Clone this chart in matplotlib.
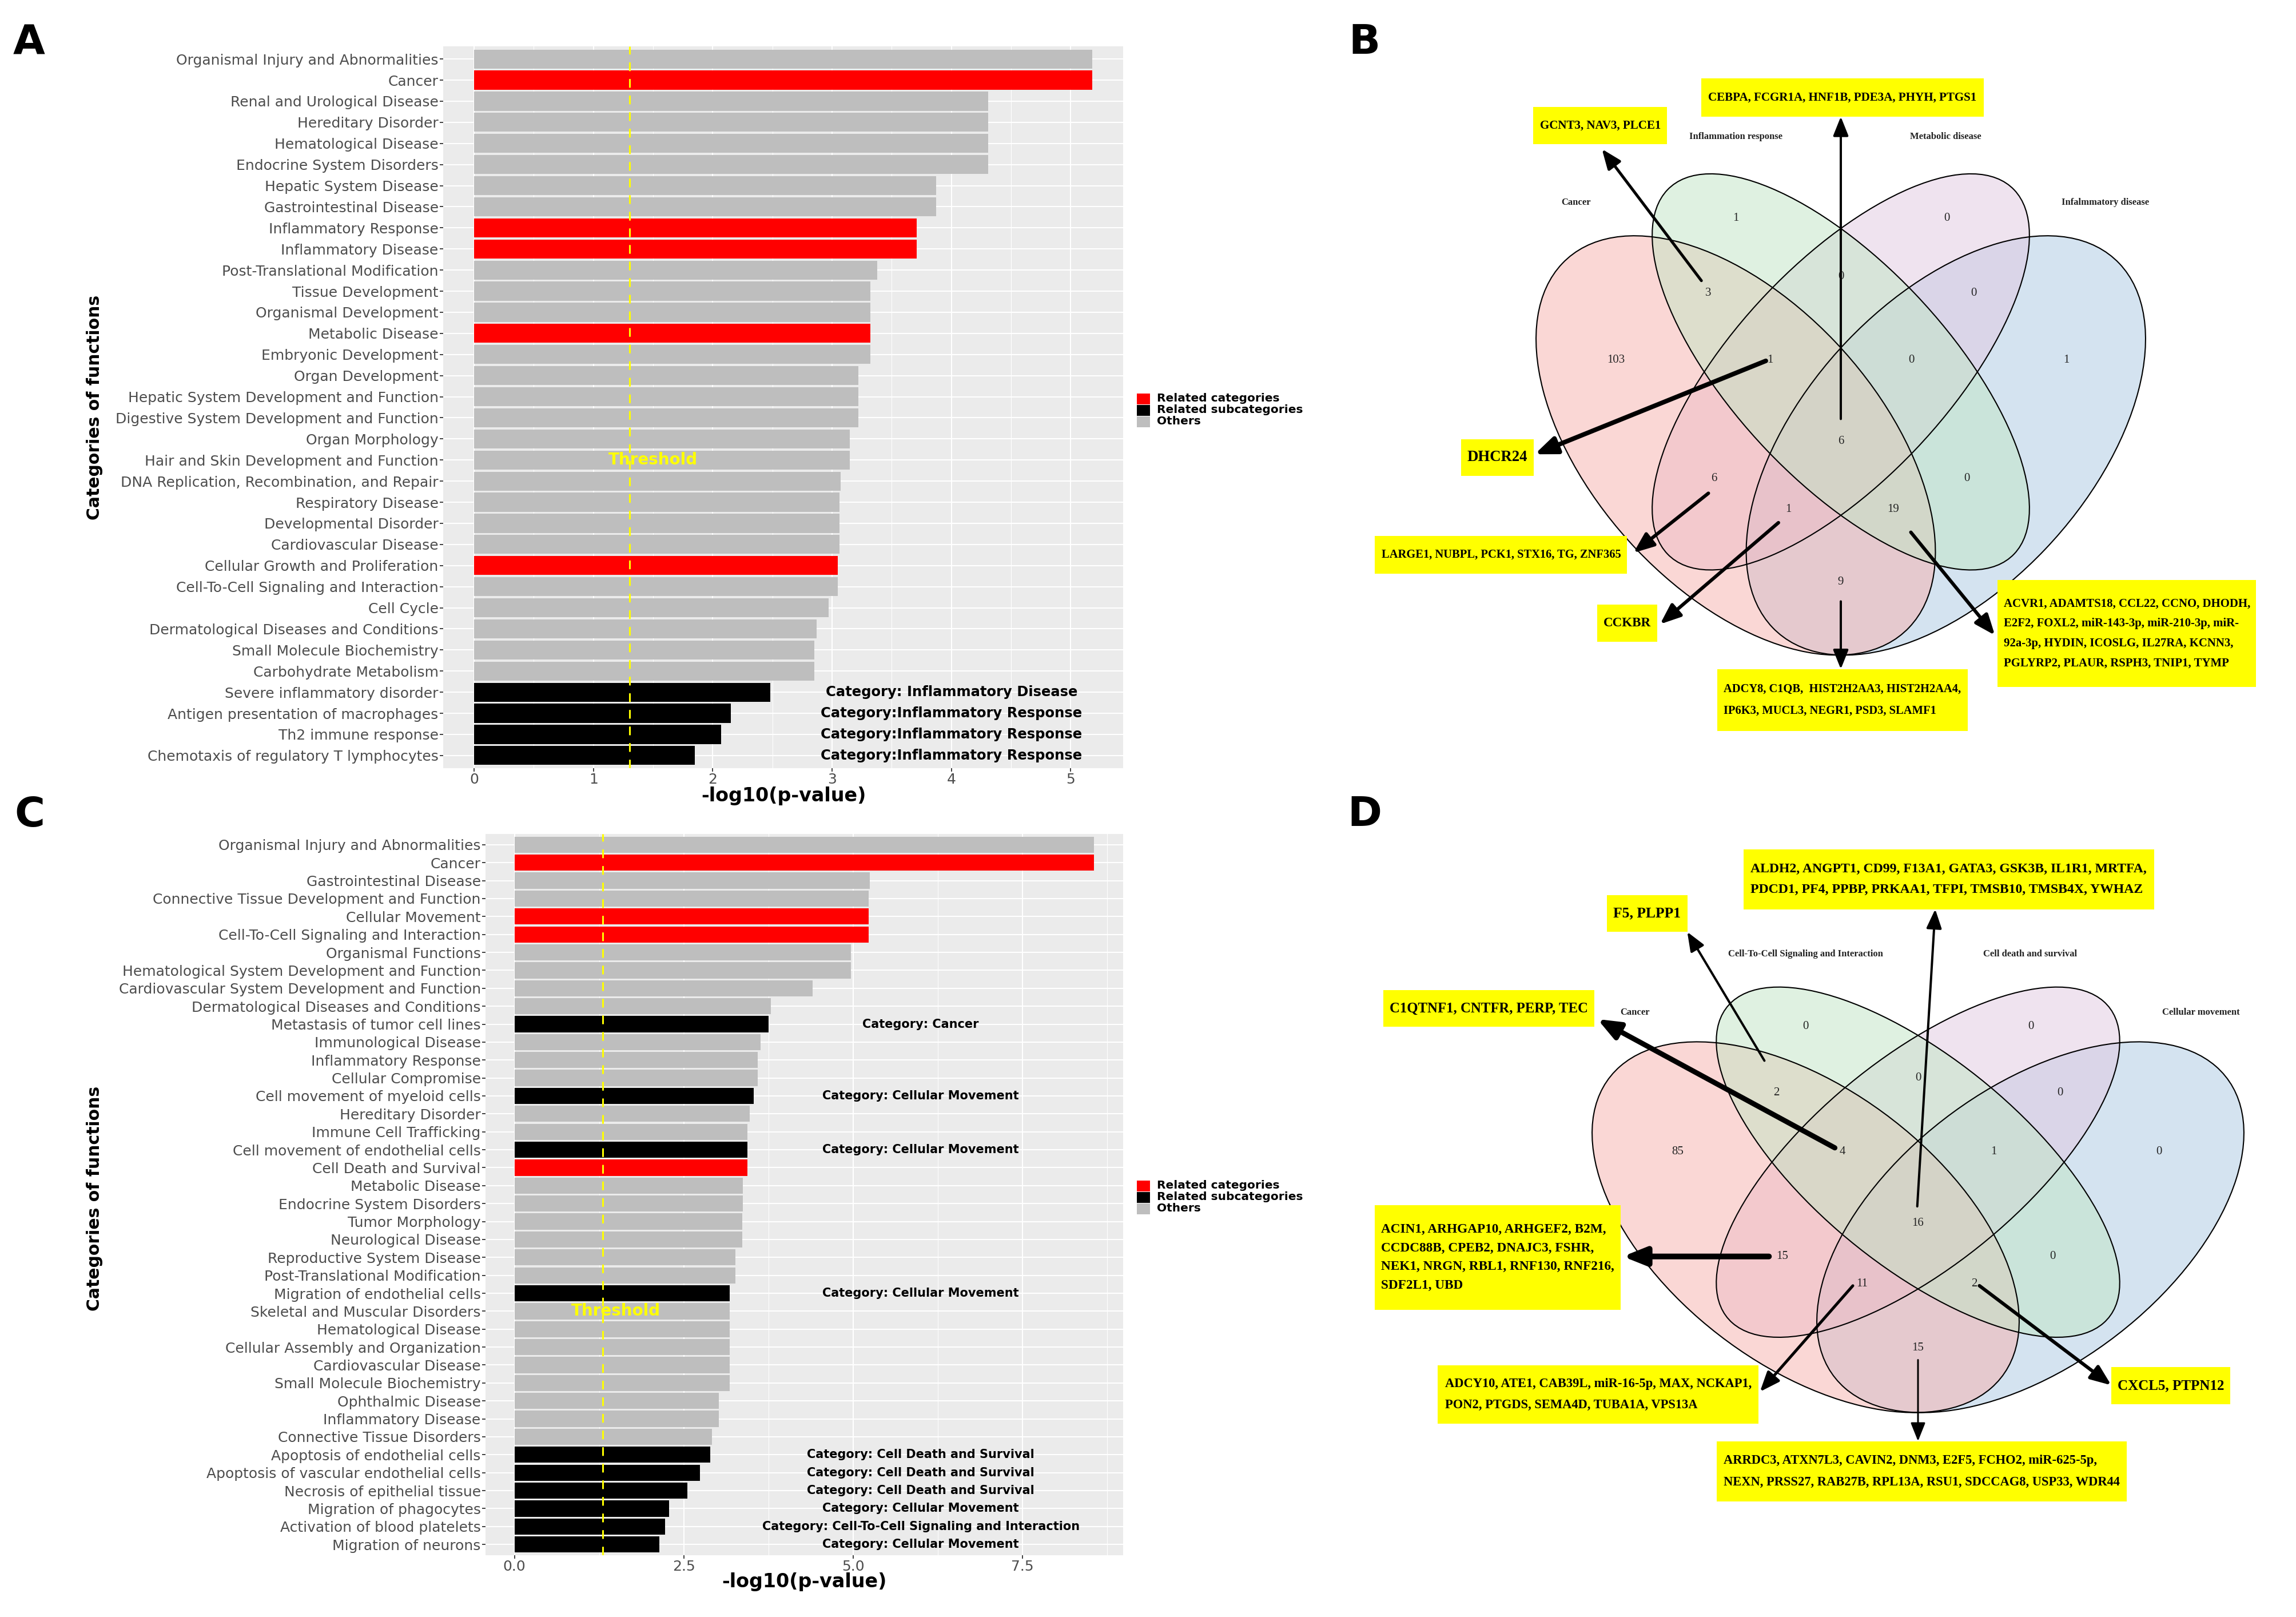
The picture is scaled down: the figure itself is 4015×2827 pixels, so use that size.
import numpy as np
import matplotlib
matplotlib.use("Agg")
import matplotlib.pyplot as plt
from matplotlib.patches import Ellipse, Rectangle
from matplotlib.ticker import MultipleLocator, FormatStrFormatter

W, H, DPI = 4015, 2827, 100

RED, BLACK, GREY = "#FF0000", "#000000", "#BEBEBE"
legend_labels = ["Related categories", "Related subcategories", "Others"]
legend_colors = [RED, BLACK, GREY]
p_threshold = 0.05

# ---------------- panel A : IPA categories ----------------
a_categories = [
    "Organismal Injury and Abnormalities", "Cancer", "Renal and Urological Disease",
    "Hereditary Disorder", "Hematological Disease", "Endocrine System Disorders",
    "Hepatic System Disease", "Gastrointestinal Disease", "Inflammatory Response",
    "Inflammatory Disease", "Post-Translational Modification", "Tissue Development",
    "Organismal Development", "Metabolic Disease", "Embryonic Development",
    "Organ Development", "Hepatic System Development and Function",
    "Digestive System Development and Function", "Organ Morphology",
    "Hair and Skin Development and Function", "DNA Replication, Recombination, and Repair",
    "Respiratory Disease", "Developmental Disorder", "Cardiovascular Disease",
    "Cellular Growth and Proliferation", "Cell-To-Cell Signaling and Interaction",
    "Cell Cycle", "Dermatological Diseases and Conditions", "Small Molecule Biochemistry",
    "Carbohydrate Metabolism", "Severe inflammatory disorder",
    "Antigen presentation of macrophages", "Th2 immune response",
    "Chemotaxis of regulatory T lymphocytes"]
a_values = [5.18, 5.18, 4.31, 4.31, 4.31, 4.31, 3.87, 3.87, 3.71, 3.71, 3.38, 3.32,
            3.32, 3.32, 3.32, 3.22, 3.22, 3.22, 3.15, 3.15, 3.07, 3.06, 3.06, 3.06,
            3.05, 3.05, 2.97, 2.87, 2.85, 2.85, 2.48, 2.15, 2.07, 1.85]
a_related = ["Cancer", "Inflammatory Response", "Inflammatory Disease",
             "Metabolic Disease", "Cellular Growth and Proliferation"]
a_subcats = ["Severe inflammatory disorder", "Antigen presentation of macrophages",
             "Th2 immune response", "Chemotaxis of regulatory T lymphocytes"]
a_note_text = ["Category: Inflammatory Disease", "Category:Inflammatory Response",
               "Category:Inflammatory Response", "Category:Inflammatory Response"]

# ---------------- panel C : IPA categories ----------------
c_categories = [
    "Organismal Injury and Abnormalities", "Cancer", "Gastrointestinal Disease",
    "Connective Tissue Development and Function", "Cellular Movement",
    "Cell-To-Cell Signaling and Interaction", "Organismal Functions",
    "Hematological System Development and Function",
    "Cardiovascular System Development and Function",
    "Dermatological Diseases and Conditions", "Metastasis of tumor cell lines",
    "Immunological Disease", "Inflammatory Response", "Cellular Compromise",
    "Cell movement of myeloid cells", "Hereditary Disorder", "Immune Cell Trafficking",
    "Cell movement of endothelial cells", "Cell Death and Survival", "Metabolic Disease",
    "Endocrine System Disorders", "Tumor Morphology", "Neurological Disease",
    "Reproductive System Disease", "Post-Translational Modification",
    "Migration of endothelial cells", "Skeletal and Muscular Disorders",
    "Hematological Disease", "Cellular Assembly and Organization",
    "Cardiovascular Disease", "Small Molecule Biochemistry", "Ophthalmic Disease",
    "Inflammatory Disease", "Connective Tissue Disorders",
    "Apoptosis of endothelial cells", "Apoptosis of vascular endothelial cells",
    "Necrosis of epithelial tissue", "Migration of phagocytes",
    "Activation of blood platelets", "Migration of neurons"]
c_values = [8.56, 8.56, 5.25, 5.23, 5.23, 5.23, 4.97, 4.97, 4.40, 3.79, 3.75, 3.63,
            3.59, 3.59, 3.53, 3.47, 3.44, 3.44, 3.44, 3.37, 3.37, 3.36, 3.36, 3.26,
            3.26, 3.18, 3.18, 3.18, 3.18, 3.18, 3.18, 3.02, 3.02, 2.92, 2.89, 2.74,
            2.55, 2.28, 2.22, 2.14]
c_related = ["Cancer", "Cellular Movement", "Cell-To-Cell Signaling and Interaction",
             "Cell Death and Survival"]
c_subcats = ["Metastasis of tumor cell lines", "Cell movement of myeloid cells",
             "Cell movement of endothelial cells", "Migration of endothelial cells",
             "Apoptosis of endothelial cells", "Apoptosis of vascular endothelial cells",
             "Necrosis of epithelial tissue", "Migration of phagocytes",
             "Activation of blood platelets", "Migration of neurons"]
c_note_text = ["Category: Cancer", "Category: Cellular Movement",
               "Category: Cellular Movement", "Category: Cellular Movement",
               "Category: Cell Death and Survival", "Category: Cell Death and Survival",
               "Category: Cell Death and Survival", "Category: Cellular Movement",
               "Category: Cell-To-Cell Signaling and Interaction",
               "Category: Cellular Movement"]

# ---------------- Venn data (region key = membership of sets 1..4) ----------------
region_keys = ["1000", "0100", "0010", "0001", "1100", "0110", "0011", "1110",
               "0111", "1111", "1010", "0101", "1011", "1101", "1001"]

b_sets = ["Cancer", "Inflammation response", "Metabolic disease", "Infalmmatory disease"]
b_counts = [103, 1, 0, 1, 3, 0, 0, 1, 0, 6, 6, 0, 1, 19, 9]
b_genes = {
    "1100": "GCNT3, NAV3, PLCE1",
    "1111": "CEBPA, FCGR1A, HNF1B, PDE3A, PHYH, PTGS1",
    "1110": "DHCR24",
    "1010": "LARGE1, NUBPL, PCK1, STX16, TG, ZNF365",
    "1011": "CCKBR",
    "1001": "ADCY8, C1QB,  HIST2H2AA3, HIST2H2AA4,\nIP6K3, MUCL3, NEGR1, PSD3, SLAMF1",
    "1101": "ACVR1, ADAMTS18, CCL22, CCNO, DHODH,\nE2F2, FOXL2, miR-143-3p, miR-210-3p, miR-\n"
            "92a-3p, HYDIN, ICOSLG, IL27RA, KCNN3,\nPGLYRP2, PLAUR, RSPH3, TNIP1, TYMP",
}

d_sets = ["Cancer", "Cell-To-Cell Signaling and Interaction", "Cell death and survival",
          "Cellular movement"]
d_counts = [85, 0, 0, 0, 2, 0, 0, 4, 1, 16, 15, 0, 11, 2, 15]
d_genes = {
    "1100": "F5, PLPP1",
    "1111": "ALDH2, ANGPT1, CD99, F13A1, GATA3, GSK3B, IL1R1, MRTFA,\n"
            "PDCD1, PF4, PPBP, PRKAA1, TFPI, TMSB10, TMSB4X, YWHAZ",
    "1110": "C1QTNF1, CNTFR, PERP, TEC",
    "1010": "ACIN1, ARHGAP10, ARHGEF2, B2M,\nCCDC88B, CPEB2, DNAJC3, FSHR,\n"
            "NEK1, NRGN, RBL1, RNF130, RNF216,\nSDF2L1, UBD",
    "1011": "ADCY10, ATE1, CAB39L, miR-16-5p, MAX, NCKAP1,\nPON2, PTGDS, SEMA4D, TUBA1A, VPS13A",
    "1001": "ARRDC3, ATXN7L3, CAVIN2, DNM3, E2F5, FCHO2, miR-625-5p,\n"
            "NEXN, PRSS27, RAB27B, RPL13A, RSU1, SDCCAG8, USP33, WDR44",
    "1101": "CXCL5, PTPN12",
}

# ---------------- Venn layout (VennDiagram quad geometry) ----------------
venn_shapes = [(0.35, 0.47, 0.35, 0.20, -45), (0.50, 0.57, 0.35, 0.15, -45),
               (0.50, 0.57, 0.35, 0.15, 45), (0.65, 0.47, 0.35, 0.20, 45)]
venn_fills = ["#F7B1AD", "#C1E5C5", "#E1C9E1", "#ABC9E3"]
venn_fill_order = [3, 2, 0, 1]
venn_label_pos = {"1000": (0.179, 0.586), "0100": (0.350, 0.779), "0010": (0.651, 0.779),
                  "0001": (0.822, 0.586), "1100": (0.311, 0.677), "0110": (0.5, 0.70),
                  "0011": (0.690, 0.677), "1110": (0.399, 0.586), "0111": (0.601, 0.586),
                  "1111": (0.5, 0.476), "1010": (0.319, 0.425), "0101": (0.680, 0.425),
                  "1011": (0.425, 0.383), "1101": (0.575, 0.383), "1001": (0.5, 0.284)}
venn_set_pos = [(0.122, 0.80), (0.350, 0.89), (0.650, 0.89), (0.878, 0.80)]

# box: (u0, u1, v0, v1); arrow: (tail, head, width px)
b_boxes = {"1100": (0.061, 0.252, 0.880, 0.930), "1111": (0.301, 0.704, 0.917, 0.969),
           "1110": (-0.042, 0.062, 0.429, 0.478), "1010": (-0.165, 0.195, 0.296, 0.347),
           "1011": (0.152, 0.238, 0.203, 0.254), "1001": (0.324, 0.681, 0.082, 0.166),
           "1101": (0.724, 1.093, 0.142, 0.287)}
b_arrows = {"1100": ((0.301, 0.694), (0.159, 0.873), 5), "1111": ((0.5, 0.506), (0.5, 0.917), 4),
            "1110": ((0.393, 0.585), (0.063, 0.458), 8), "1010": ((0.311, 0.405), (0.204, 0.324), 6),
            "1011": ((0.411, 0.365), (0.242, 0.227), 6), "1101": ((0.600, 0.352), (0.720, 0.212), 6),
            "1001": ((0.5, 0.258), (0.5, 0.166), 4)}
d_boxes = {"1111": (0.267, 0.815, 0.959, 1.051), "1100": (0.085, 0.192, 0.924, 0.981),
           "1110": (-0.214, 0.068, 0.778, 0.835), "1010": (-0.225, 0.103, 0.343, 0.504),
           "1011": (-0.141, 0.287, 0.168, 0.258), "1001": (0.231, 0.779, 0.048, 0.141),
           "1101": (0.758, 0.917, 0.198, 0.255)}
d_arrows = {"1100": ((0.295, 0.726), (0.192, 0.924), 4), "1110": ((0.389, 0.592), (0.072, 0.790), 9),
            "1111": ((0.499, 0.502), (0.523, 0.959), 4), "1010": ((0.301, 0.425), (0.106, 0.425), 10),
            "1011": ((0.413, 0.380), (0.289, 0.217), 5), "1101": ((0.582, 0.380), (0.758, 0.227), 6),
            "1001": ((0.5, 0.266), (0.5, 0.141), 3)}

fig = plt.figure(figsize=(W / DPI, H / DPI), dpi=DPI)
fit_items = []


def bar_panel(px_box, cats, vals, related, subcats, notes, note_x, note_fs, thr_row, major, fmt):
    x0, y0, x1, y1 = px_box
    ax = fig.add_axes([x0 / W, 1 - y1 / H, (x1 - x0) / W, (y1 - y0) / H])
    n = len(cats)
    ypos = np.arange(n)
    colors = [RED if c in related else BLACK if c in subcats else GREY for c in cats]
    ax.set_facecolor("#EBEBEB")
    ax.barh(ypos, vals, height=0.9, color=colors, zorder=2)
    span = max(vals)
    ax.set_xlim(-0.05 * span, 1.05 * span)
    ax.set_ylim(n - 1 + 0.6, -0.6)
    thr = -np.log10(p_threshold)
    ax.axvline(thr, color="#FFFF00", lw=2.2, ls=(0, (5, 4.5)), zorder=3)
    ax.text(1.5, cats.index(thr_row), "Threshold", color="#FFFF00", fontsize=20,
            fontweight="bold", ha="center", va="center", zorder=4)
    note_rows = [c for c in cats if c in subcats]
    for r, t in zip(note_rows, notes):
        ax.text(note_x, cats.index(r), t, fontsize=note_fs, fontweight="bold",
                ha="center", va="center", color="black")
    ax.set_yticks(ypos)
    ax.set_yticklabels(cats)
    ax.xaxis.set_major_locator(MultipleLocator(major))
    ax.xaxis.set_minor_locator(MultipleLocator(major / 2))
    ax.xaxis.set_major_formatter(FormatStrFormatter(fmt))
    ax.tick_params(which="major", length=4, width=1.3, color="#333333",
                   labelcolor="#4D4D4D", labelsize=18, pad=2)
    ax.tick_params(which="minor", length=0)
    ax.grid(which="major", color="white", lw=1.5)
    ax.grid(which="minor", axis="x", color="white", lw=0.75)
    ax.set_axisbelow(True)
    for s in ax.spines.values():
        s.set_visible(False)
    return ax


bar_panel((775, 81, 1964, 1343), a_categories, a_values, a_related, a_subcats,
          a_note_text, 4.0, 17.5, "Hair and Skin Development and Function", 1, "%d")
bar_panel((849, 1458, 1964, 2719), c_categories, c_values, c_related, c_subcats,
          c_note_text, 6.0, 15, "Skeletal and Muscular Disorders", 2.5, "%.1f")


def venn_panel(px_box, anchor, scale, sets, counts, genes, boxes, arrows):
    x0, y0, x1, y1 = px_box
    cx, cy = anchor
    sx, sy = scale
    ax = fig.add_axes([x0 / W, 1 - y1 / H, (x1 - x0) / W, (y1 - y0) / H])
    ax.set_xlim(0.5 + (x0 - cx) / sx, 0.5 + (x1 - cx) / sx)
    ax.set_ylim(0.70 - (y1 - cy) / sy, 0.70 - (y0 - cy) / sy)
    ax.axis("off")
    for i in venn_fill_order:
        ex, ey, ea, eb, ang = venn_shapes[i]
        ax.add_patch(Ellipse((ex, ey), 2 * ea, 2 * eb, angle=ang, facecolor=venn_fills[i],
                             edgecolor="none", alpha=0.5, zorder=1))
    for ex, ey, ea, eb, ang in venn_shapes:
        ax.add_patch(Ellipse((ex, ey), 2 * ea, 2 * eb, angle=ang, fill=False,
                             edgecolor="black", lw=1.5, zorder=2))
    for k, c in zip(region_keys, counts):
        ux, vy = venn_label_pos[k]
        ax.text(ux, vy, str(c), family="Liberation Serif", fontsize=15, color="#222222",
                ha="center", va="center", zorder=3)
    for name, (ux, vy) in zip(sets, venn_set_pos):
        ax.text(ux, vy, name, family="Liberation Serif", fontweight="bold", fontsize=12,
                color="#222222", ha="center", va="center", zorder=3)
    for k, txt in genes.items():
        u0, u1, v0, v1 = boxes[k]
        ax.add_patch(Rectangle((u0, v0), u1 - u0, v1 - v0, facecolor="#FFFF00",
                               edgecolor="none", zorder=4))
        t = ax.text((u0 + u1) / 2, (v0 + v1) / 2, txt, family="Liberation Serif",
                    fontweight="bold", fontsize=15, ha="center", va="center",
                    multialignment="left", zorder=5)
        fit_items.append((t, (u1 - u0) * sx, (v1 - v0) * sy, txt.count("\n") + 1))
        tail, head, lw = arrows[k]
        ax.annotate("", xy=head, xytext=tail, zorder=6,
                    arrowprops=dict(arrowstyle="-|>,head_length=0.5,head_width=0.2",
                                    mutation_scale=36 + 1.2 * lw, lw=lw * 0.72,
                                    color="black", shrinkA=0, shrinkB=0))
    return ax


venn_panel((2300, 100, 4015, 1330), (3219, 483), (1225, 1286), b_sets, b_counts,
           b_genes, b_boxes, b_arrows)
venn_panel((2300, 1440, 4015, 2700), (3354, 1884), (1310, 1137), d_sets, d_counts,
           d_genes, d_boxes, d_arrows)

# overlay in pixel coordinates for titles, legends and panel letters
ov = fig.add_axes([0, 0, 1, 1], zorder=10)
ov.set_xlim(0, W)
ov.set_ylim(H, 0)
ov.axis("off")

for lab, (px, py) in zip("ABCD", [(51, 75), (2386, 75), (52, 1425), (2386, 1425)]):
    ov.text(px, py, lab, fontsize=52, fontweight="bold", ha="center", va="center")

for yc in (712, 2095):
    ov.text(166, yc, "Categories of functions", fontsize=21.5, fontweight="bold",
            rotation=90, ha="center", va="center")
for px, py in [(1370, 1392), (1406, 2765)]:
    ov.text(px, py, "-log10(p-value)", fontsize=24, fontweight="bold",
            ha="center", va="center")

for rows in ([697, 717, 737], [2073, 2093, 2113]):
    for lab, col, yc in zip(legend_labels, legend_colors, rows):
        ov.add_patch(Rectangle((1988, yc - 9.5), 23, 19, facecolor=col, edgecolor="none"))
        ov.text(2023, yc, lab, fontsize=14.5, fontweight="bold", ha="left", va="center")

# fit the gene lists into their yellow boxes
fig.canvas.draw()
rend = fig.canvas.get_renderer()
for t, bw, bh, nl in fit_items:
    bb = t.get_window_extent(rend)
    fs = t.get_fontsize() * (bw - 22) / bb.width
    fs = min(fs, (bh - 8) / (nl * 1.25) * 72 / DPI)
    fs_px = fs * DPI / 72
    t.set_fontsize(fs)
    if nl > 1:
        t.set_linespacing(max(1.2, min(2.2, bh * 0.88 / (nl * fs_px))))

fig.savefig("out.png", dpi=DPI)
